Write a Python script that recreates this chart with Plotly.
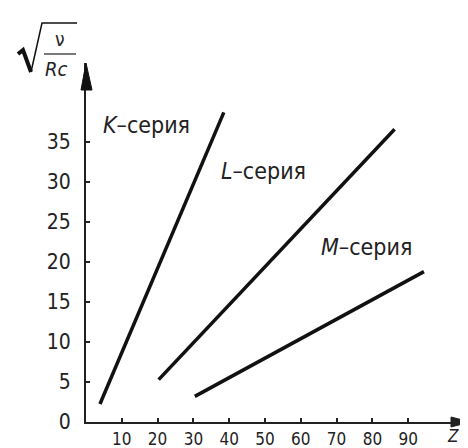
import plotly.graph_objects as go

# ---- data ----
series_names = ["K", "L", "M"]
z_start = [3.9, 20.3, 30.4]
z_end = [38.5, 86.2, 94.4]
v_start = [2.25, 5.3, 3.2]
v_end = [38.7, 36.6, 18.8]
label_z = [5.3, 38.3, 66.2]
label_v = [37.1, 31.4, 21.9]
x_ticks = [10, 20, 30, 40, 50, 60, 70, 80, 90]
y_ticks = [0, 5, 10, 15, 20, 25, 30, 35]

W, H = 468, 448
ML, MR, MT, MB = 78, 6, 55, 34
PW, PH = W - ML - MR, H - MT - MB
XPX, YPX = 3.58, 8.0  # px per unit
FONT = "DejaVu Sans Condensed, Liberation Sans Narrow, Arial Narrow, DejaVu Sans, sans-serif"


def px(x, y):
    return (x - ML) / PW, (H - MB - y) / PH


fig = go.Figure()
for name, z0, z1, v0, v1 in zip(series_names, z_start, z_end, v_start, v_end):
    fig.add_trace(go.Scatter(x=[z0, z1], y=[v0, v1], mode="lines",
                             line=dict(color="#111", width=3.5), showlegend=False,
                             hoverinfo="skip", name=name))

for name, lz, lv in zip(series_names, label_z, label_v):
    fig.add_annotation(x=lz, y=lv, xref="x", yref="y", xanchor="left", yanchor="middle",
                       text=f"<i>{name}</i>\u2013серия", showarrow=False, xshift=-4,
                       font=dict(family=FONT, size=23, color="#222"))

AX = H - MB
shapes = []
# x-axis arrowhead
a = px(443, AX - 5); b = px(462, AX); c = px(443, AX + 5)
shapes.append(dict(type="path", xref="paper", yref="paper",
                   path=f"M {a[0]},{a[1]} L {b[0]},{b[1]} L {c[0]},{c[1]} Z",
                   fillcolor="#222", line=dict(color="#222", width=1)))
# y-axis arrowhead
a = px(73, 82); b = px(78, 55); c = px(84, 82)
shapes.append(dict(type="path", xref="paper", yref="paper",
                   path=f"M {a[0]},{a[1]} L {b[0]},{b[1]} L {c[0]},{c[1]} Z",
                   fillcolor="#111", line=dict(color="#111", width=1)))
# radical sign
p1 = px(10, 46); p2 = px(15, 42); p3 = px(23, 64)
shapes.append(dict(type="path", xref="paper", yref="paper",
                   path=f"M {p1[0]},{p1[1]} L {p2[0]},{p2[1]} L {p3[0]},{p3[1]}",
                   line=dict(color="#111", width=4)))
p4 = px(34, 15); p5 = px(69, 15)
shapes.append(dict(type="path", xref="paper", yref="paper",
                   path=f"M {p3[0]},{p3[1]} L {p4[0]},{p4[1]} L {p5[0]},{p5[1]}",
                   line=dict(color="#111", width=1.5)))
# fraction bar
f1 = px(36, 46); f2 = px(68, 46)
shapes.append(dict(type="line", xref="paper", yref="paper", x0=f1[0], y0=f1[1], x1=f2[0], y1=f2[1],
                   line=dict(color="#222", width=1.2)))

fig.update_layout(shapes=shapes)

nu = px(52, 31); rc = px(48, 61); zl = px(445, 428)
fig.add_annotation(x=nu[0], y=nu[1], xref="paper", yref="paper", text="ν", showarrow=False,
                   font=dict(family=FONT, size=19, color="#222"), xanchor="center", yanchor="middle")
fig.add_annotation(x=rc[0], y=rc[1], xref="paper", yref="paper", text="<i>Rc</i>", showarrow=False,
                   font=dict(family=FONT, size=20, color="#222"), xanchor="center", yanchor="middle")
fig.add_annotation(x=zl[0], y=zl[1], xref="paper", yref="paper", text="<i>Z</i>", showarrow=False,
                   font=dict(family=FONT, size=17, color="#222"), xanchor="center", yanchor="middle")

fig.update_xaxes(range=[0, PW / XPX], tickvals=x_ticks, ticktext=[str(v) for v in x_ticks],
                 showgrid=False, zeroline=False, showline=True, linecolor="#222", linewidth=2,
                 ticks="inside", ticklen=4, tickwidth=1.5, tickcolor="#222",
                 tickfont=dict(family=FONT, size=17, color="#222"), ticklabelstandoff=1)
fig.update_yaxes(range=[0, PH / YPX], tickvals=y_ticks, ticktext=[str(v) for v in y_ticks],
                 showgrid=False, zeroline=False, showline=True, linecolor="#222", linewidth=2,
                 ticks="inside", ticklen=4, tickwidth=1.5, tickcolor="#222",
                 tickfont=dict(family=FONT, size=21, color="#222"), ticklabelstandoff=9)

fig.update_layout(width=W, height=H, margin=dict(l=ML, r=MR, t=MT, b=MB),
                  paper_bgcolor="white", plot_bgcolor="white")
fig.write_html("out.html")
